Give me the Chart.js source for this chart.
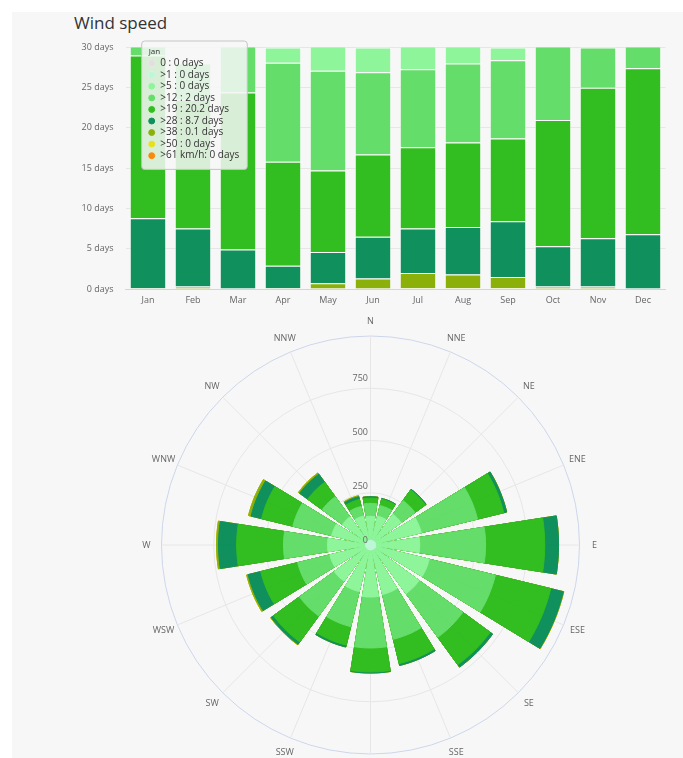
<!DOCTYPE html>
<html>
<head>
<meta charset="utf-8">
<script src="https://cdn.jsdelivr.net/npm/chart.js@4/dist/chart.umd.min.js"></script>
<style>
  html, body { margin: 0; padding: 0; background: #ffffff; width: 683px; height: 758px; overflow: hidden; }
  #panel { position: absolute; left: 12px; top: 12px; width: 671px; height: 746px; background: #f7f7f7; }
  #title { position: absolute; left: 74px; top: 12.5px; font: 17px/20px 'Open Sans', sans-serif; color: #333333; white-space: nowrap; }
  #bar { position: absolute; left: 12px; top: 30px; }
  #rose { position: absolute; left: 12px; top: 310px; }
</style>
</head>
<body>
<div id="panel"></div>
<div id="title">Wind speed</div>
<canvas id="bar" width="671" height="300"></canvas>
<canvas id="rose" width="671" height="448"></canvas>
<script>
// ---------- data ----------
const MONTHS = ['Jan', 'Feb', 'Mar', 'Apr', 'May', 'Jun', 'Jul', 'Aug', 'Sep', 'Oct', 'Nov', 'Dec'];
const SPEED_CLASSES = ['0 ', '>1 ', '>5 ', '>12 ', '>19 ', '>28 ', '>38 ', '>50 ', '>61 km/h'];
const CLASS_COLORS = ['#e2dfdf', '#bdf7d8', '#8ef59b', '#65dd6a', '#32bd20', '#0f905c', '#8cb00a', '#e6e21a', '#f58a0c'];

// days per month in each speed class (km/h)
const DAYS_CALM = [0, 0, 0, 0, 0, 0, 0, 0, 0, 0, 0, 0];
const DAYS_GT1  = [0, 0, 0, 0, 0, 0, 0, 0, 0, 0, 0, 0];
const DAYS_GT5  = [0, 0, 0, 1.9, 3.9, 3.1, 3.7, 3.0, 1.6, 0, 0, 0];
const DAYS_GT12 = [2, 4.5, 6.6, 12.3, 12.4, 10.2, 9.7, 9.8, 9.7, 10.0, 5.0, 3.6];
const DAYS_GT19 = [20.2, 16.0, 19.5, 12.9, 10.1, 10.2, 10.1, 10.5, 10.3, 15.7, 18.7, 20.6];
const DAYS_GT28 = [8.7, 7.2, 4.9, 2.8, 3.9, 5.2, 5.5, 5.9, 6.9, 5.0, 6.0, 6.8];
const DAYS_GT38 = [0.1, 0.3, 0, 0.1, 0.7, 1.3, 1.9, 1.7, 1.4, 0.3, 0.3, 0];
const DAYS_GT50 = [0, 0, 0, 0, 0, 0, 0.1, 0.1, 0.1, 0, 0, 0];
const DAYS_GT61 = [0, 0, 0, 0, 0, 0, 0, 0, 0, 0, 0, 0];

// wind rose: counts per direction in each speed class
const DIRECTIONS = ['N', 'NNE', 'NE', 'ENE', 'E', 'ESE', 'SE', 'SSE', 'S', 'SSW', 'SW', 'WSW', 'W', 'WNW', 'NW', 'NNW'];
const ROSE_CALM = [0, 0, 0, 0, 0, 0, 0, 0, 0, 0, 0, 0, 0, 0, 0, 0];
const ROSE_GT1  = [22, 22, 23, 24, 24, 25, 24, 23, 23, 23, 23, 23, 23, 23, 22, 22];
const ROSE_GT5  = [111, 116, 153, 218, 204, 255, 255, 213, 218, 199, 185, 171, 176, 162, 139, 116];
const ROSE_GT12 = [60, 50, 79, 268, 305, 315, 250, 213, 236, 167, 199, 153, 204, 185, 116, 46];
const ROSE_GT19 = [24, 30, 60, 125, 274, 264, 157, 116, 111, 88, 149, 176, 217, 149, 83, 33];
const ROSE_GT28 = [7, 4, 4, 14, 64, 60, 14, 9, 5, 9, 13, 60, 84, 50, 46, 13];
const ROSE_GT38 = [0, 0, 0, 0, 0, 2, 0, 0, 0, 0, 3, 7, 9, 12, 7, 5];
const ROSE_GT50 = [0, 0, 0, 0, 0, 0, 0, 0, 0, 0, 0, 0, 0, 0, 0, 0];
const ROSE_GT61 = [0, 0, 0, 0, 0, 0, 0, 0, 0, 0, 0, 0, 0, 0, 0, 0];

const R_TICKS = [0, 250, 500, 750];
const R_MAX = 968;

// ---------- setup ----------
Chart.defaults.font.family = "'Open Sans', sans-serif";
Chart.defaults.color = '#666666';

const dayTable = [DAYS_CALM, DAYS_GT1, DAYS_GT5, DAYS_GT12, DAYS_GT19, DAYS_GT28, DAYS_GT38, DAYS_GT50, DAYS_GT61];
const roseTable = [ROSE_CALM, ROSE_GT1, ROSE_GT5, ROSE_GT12, ROSE_GT19, ROSE_GT28, ROSE_GT38, ROSE_GT50, ROSE_GT61];

const TooltipPlugin = Chart.Tooltip || Chart.registry.getPlugin('tooltip');
TooltipPlugin.positioners.fixedBox = function () {
  return { x: 132.7, y: 11, xAlign: 'left', yAlign: 'top' };
};

// stacked bars: strongest class at the bottom
const barDatasets = SPEED_CLASSES.map((name, i) => ({
  label: name,
  data: dayTable[i],
  backgroundColor: CLASS_COLORS[i],
  borderColor: '#ffffff',
  borderWidth: { top: 1, left: 0.5, right: 0.5, bottom: 0 },
  borderSkipped: false,
  categoryPercentage: 1,
  barPercentage: 0.79,
  clip: 0
})).reverse();

const barChart = new Chart(document.getElementById('bar'), {
  type: 'bar',
  data: { labels: MONTHS, datasets: barDatasets },
  options: {
    responsive: false,
    animation: false,
    events: [],
    layout: { padding: { top: 17, right: 17.5, bottom: 0, left: 0 } },
    plugins: {
      legend: { display: false },
      title: { display: false },
      tooltip: {
        enabled: true,
        mode: 'index',
        intersect: false,
        position: 'fixedBox',
        xAlign: 'left',
        yAlign: 'top',
        caretSize: 0,
        caretPadding: 0,
        cornerRadius: 3,
        backgroundColor: 'rgba(247,247,247,0.85)',
        borderColor: '#c4c4c4',
        borderWidth: 1,
        titleColor: '#333333',
        bodyColor: '#333333',
        titleFont: { size: 8, weight: 'normal' },
        bodyFont: { size: 10, lineHeight: 1.15 },
        titleMarginBottom: 0.9,
        bodySpacing: 0.05,
        padding: { top: 6, bottom: 8, left: 7, right: 8 },
        displayColors: true,
        usePointStyle: true,
        boxWidth: 6,
        boxHeight: 6,
        boxPadding: 3.5,
        itemSort: (a, b) => b.datasetIndex - a.datasetIndex,
        callbacks: {
          label: (c) => c.dataset.label + ': ' + c.raw + ' days',
          labelColor: (c) => ({ borderColor: c.dataset.backgroundColor, backgroundColor: c.dataset.backgroundColor, borderWidth: 0 }),
          labelPointStyle: () => ({ pointStyle: 'circle', rotation: 0 })
        }
      }
    },
    scales: {
      x: {
        stacked: true,
        grid: { display: false, drawTicks: false },
        border: { color: '#ccd6eb', width: 1 },
        ticks: { color: '#666666', font: { size: 9 }, padding: 6, maxRotation: 0, autoSkip: false },
        afterFit: (s) => { s.height = 41; }
      },
      y: {
        stacked: true,
        min: 0,
        max: 30,
        grid: { color: '#e6e6e6', drawTicks: false },
        border: { display: false },
        ticks: { stepSize: 5, color: '#666666', font: { size: 9 }, padding: 12, callback: (v) => v + ' days' },
        afterFit: (s) => { s.width = 113.5; }
      }
    }
  }
});

barChart.tooltip.setActiveElements(barDatasets.map((d, i) => ({ datasetIndex: i, index: 0 })), { x: 0, y: 0 });
barChart.draw();

// ---------- wind rose ----------
const SECTOR = 17.8;            // degrees per direction column
const GAP = 22.5 - SECTOR;      // empty wedge between columns

// every direction is split in two halves around its axis, with a gap element between neighbours
const roseLabels = [];
DIRECTIONS.forEach((d) => { roseLabels.push(d, '', ''); });
function spread(values) {
  const out = [];
  for (let k = 0; k < values.length; k++) {
    out.push(values[k], 0, values[(k + 1) % values.length]);
  }
  return out;
}

let running = DIRECTIONS.map(() => 0);
const roseDatasets = SPEED_CLASSES.map((name, i) => {
  running = running.map((v, k) => v + roseTable[i][k]);
  return {
    label: name,
    data: spread(running),
    backgroundColor: CLASS_COLORS[i],
    borderColor: CLASS_COLORS[i],
    borderWidth: (c) => (c.raw > 0 ? 1 : 0),
    angle: (c) => (c.index % 3 === 1 ? GAP : SECTOR / 2)
  };
});

const roseText = {
  id: 'roseText',
  afterDraw(chart) {
    const s = chart.scales.r;
    const ctx = chart.ctx;
    ctx.save();
    ctx.font = "9px 'Open Sans', sans-serif";
    ctx.fillStyle = '#666666';
    ctx.textBaseline = 'middle';
    ctx.textAlign = 'center';
    DIRECTIONS.forEach((d, k) => {
      const p = s.getPointPosition(k * 3, s.drawingArea + 15);
      ctx.fillText(d, p.x, p.y);
    });
    ctx.textAlign = 'right';
    R_TICKS.forEach((v) => {
      const r = s.getDistanceFromCenterForValue(v);
      ctx.fillText(String(v), s.xCenter - 2.5, s.yCenter - r - 4.5);
    });
    ctx.restore();
  }
};

const roseChart = new Chart(document.getElementById('rose'), {
  type: 'polarArea',
  data: { labels: roseLabels, datasets: roseDatasets },
  options: {
    responsive: false,
    animation: false,
    events: [],
    plugins: { legend: { display: false }, tooltip: { enabled: false } },
    scales: {
      r: {
        min: 0,
        max: R_MAX,
        startAngle: 0,
        ticks: { display: false, stepSize: 250 },
        grid: {
          circular: true,
          color: (c) => (c.tick && c.tick.value >= R_MAX ? '#ccd6eb' : '#e6e6e6'),
          lineWidth: 1
        },
        angleLines: {
          display: true,
          color: '#e6e6e6',
          lineWidth: (c) => (c.index % 3 === 0 ? 1 : 0)
        },
        pointLabels: { display: false },
        afterFit: (s) => { s.xCenter = 358.5; s.yCenter = 235; s.drawingArea = 209; }
      }
    }
  },
  plugins: [roseText]
});
</script>
</body>
</html>
